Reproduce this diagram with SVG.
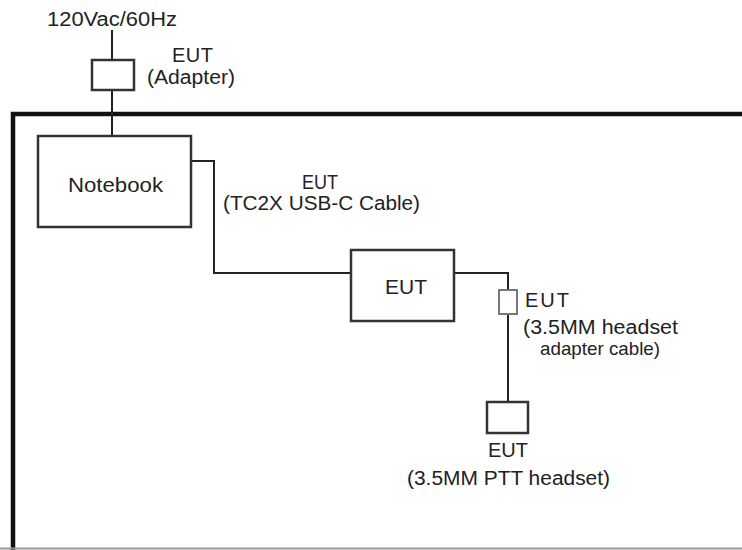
<svg xmlns="http://www.w3.org/2000/svg" width="742" height="550" viewBox="0 0 742 550">
<style>
.t{font-family:"Liberation Sans",Arial,sans-serif;font-size:20px;fill:#222}
.e{font-size:20px}
.s{font-size:19px}
.box{fill:#fff;stroke:#333;stroke-width:2.5}
.w{fill:none;stroke:#222;stroke-width:2}
</style>
<rect width="742" height="550" fill="#fff"/>
<g id="frame">
<path d="M13,550 V114 H742" fill="none" stroke="#111" stroke-width="4.5"/>
<line x1="0" y1="548.5" x2="742" y2="548.5" stroke="#999" stroke-width="2"/>
</g>
<g id="connectors">
<path class="w" d="M112,30 V60"/>
<path class="w" d="M112,90 V136"/>
<path class="w" d="M191,161 H214 V273 H351"/>
<path class="w" d="M454,273 H508 V290"/>
<path class="w" d="M508,314 V402"/>
</g>
<g id="source"><text class="t" x="47" y="26" textLength="130" lengthAdjust="spacingAndGlyphs">120Vac/60Hz</text></g>
<g id="adapter">
<rect class="box" x="92" y="60" width="42" height="30"/>
<text class="t e" x="172" y="62" textLength="41">EUT</text>
<text class="t" x="147" y="84" textLength="88" lengthAdjust="spacingAndGlyphs">(Adapter)</text>
</g>
<g id="notebook">
<rect class="box" x="38" y="136" width="153" height="91"/>
<text class="t" x="68" y="192" textLength="95" lengthAdjust="spacingAndGlyphs">Notebook</text>
</g>
<g id="cable">
<text class="t" x="302" y="189" textLength="36" lengthAdjust="spacingAndGlyphs">EUT</text>
<text class="t" x="223" y="210" textLength="197" lengthAdjust="spacingAndGlyphs">(TC2X USB-C Cable)</text>
</g>
<g id="eut">
<rect class="box" x="351" y="250" width="103" height="71"/>
<text class="t" x="385" y="294" textLength="42" lengthAdjust="spacingAndGlyphs">EUT</text>
</g>
<g id="headset-adapter">
<rect x="499" y="290" width="18" height="24" fill="#fff" stroke="#777" stroke-width="2"/>
<text class="t e" x="525" y="307" textLength="44">EUT</text>
<text class="t" x="523" y="334" textLength="155" lengthAdjust="spacingAndGlyphs">(3.5MM headset</text>
<text class="t s" x="540" y="355" textLength="120" lengthAdjust="spacingAndGlyphs">adapter cable)</text>
</g>
<g id="headset">
<rect class="box" x="487" y="402" width="41" height="31"/>
<text class="t e" x="488" y="457" textLength="40">EUT</text>
<text class="t" x="407" y="485" textLength="203" lengthAdjust="spacingAndGlyphs">(3.5MM PTT headset)</text>
</g>
</svg>
